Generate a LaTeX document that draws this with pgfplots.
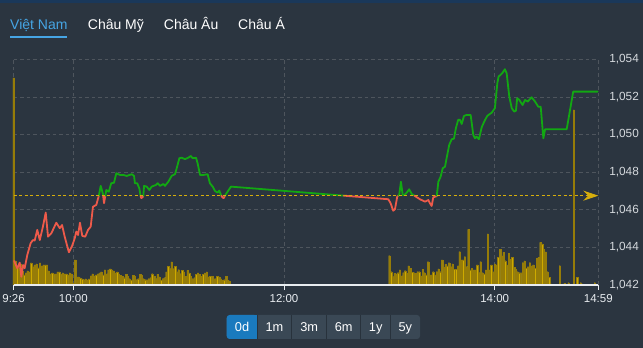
\documentclass[border=0pt]{standalone}
\usepackage{fontspec}
\setmainfont{Liberation Sans}
\usepackage{pgfplots}
\pgfplotsset{compat=1.18}
\usetikzlibrary{arrows.meta}
\definecolor{bg}{RGB}{43,53,64}
\definecolor{topstrip}{RGB}{26,56,90}
\definecolor{gridc}{RGB}{78,85,93}
\definecolor{tabblue}{RGB}{70,165,228}
\definecolor{lblc}{RGB}{214,218,222}
\definecolor{axisw}{RGB}{232,236,240}
\definecolor{redc}{RGB}{238,90,74}
\definecolor{greenc}{RGB}{18,168,18}
\definecolor{refc}{RGB}{214,174,12}
\definecolor{barfill}{RGB}{206,170,0}
\definecolor{baredge}{RGB}{150,124,8}
\definecolor{btn}{RGB}{58,72,85}
\definecolor{btnact}{RGB}{26,122,190}
\definecolor{btnsep}{RGB}{40,50,60}
\begin{document}
\begin{tikzpicture}[x=1pt,y=1pt]
\useasboundingbox (0,0) rectangle (643,348);
\fill[bg] (0,0) rectangle (643,348);
\fill[topstrip] (0,345) rectangle (643,348);
% tabs
\node[anchor=base west, inner sep=0pt, text=tabblue, font=\fontsize{14}{16}\selectfont] at (10,318.7) {Việt Nam};
\node[anchor=base west, inner sep=0pt, text=white, font=\fontsize{14}{16}\selectfont] at (87.7,318.7) {Châu Mỹ};
\node[anchor=base west, inner sep=0pt, text=white, font=\fontsize{14}{16}\selectfont] at (163.7,318.7) {Châu Âu};
\node[anchor=base west, inner sep=0pt, text=white, font=\fontsize{14}{16}\selectfont] at (238,318.7) {Châu Á};
\fill[tabblue] (10,309.5) rectangle (67,312.2);
% buttons
\fill[btn, rounded corners=3pt] (226.7,9) rectangle (420,33);
\fill[btnact, rounded corners=3pt] (226.7,9) rectangle (257.3,33);
\fill[btnact] (250,9) rectangle (257.3,33);
\foreach \sx in {257.3,291.7,326.7,360.7,390.7} {\draw[btnsep, line width=1pt] (\sx,9) -- (\sx,33);}
\foreach \bx/\bt in {242/0d,274.5/1m,309.2/3m,343.7/6m,375.7/1y,405.3/5y} {
  \node[anchor=base, inner sep=0pt, text=white, font=\fontsize{12.8}{14}\selectfont] at (\bx,16.3) {\bt};
}
% grid axis
\begin{axis}[
  at={(13.6pt,63pt)}, anchor=south west, scale only axis,
  width=584.7pt, height=225.7pt,
  xmin=26, xmax=359, ymin=1042, ymax=1054,
  axis line style={draw=none},
  xtick={26,60,180,300,359},
  ytick={1042,1044,1046,1048,1050,1052,1054},
  xticklabels={}, yticklabels={},
  tick style={draw=none},
  grid=major,
  major grid style={draw=gridc, dash pattern=on 3.5pt off 3pt, line width=0.6pt},
]
\addplot[draw=none] coordinates {(26,1042) (359,1054)};
\end{axis}
% volume axis
\begin{axis}[
  at={(13.6pt,63pt)}, anchor=south west, scale only axis,
  width=584.7pt, height=225.7pt,
  xmin=26, xmax=359, ymin=0, ymax=225.7,
  hide axis, clip=false,
]
\addplot[ybar, bar width=1.35pt, fill=barfill, draw=baredge, line width=0.3pt] coordinates {
(26,207) (27,24) (28,19) (29,17) (30,21) (31,14) (32,10) (33,12) (34,14) (35,13)
(36,22) (37,18) (38,20) (39,21) (40,17) (41,22) (42,19) (43,20) (44,20) (45,20)
(46,14) (47,11) (48,12) (49,11) (50,11) (51,13) (52,13) (53,11) (54,12) (55,11)
(56,11) (57,10) (58,12) (59,11) (60,1.5) (61,25)
(62,8) (63,8) (64,7) (65,6) (66,5) (67,6) (68,5) (69,6) (70,9) (71,11) (72,9) (73,10)
(74,11) (75,12) (76,13) (77,10) (78,15) (79,11) (80,15) (81,16) (82,15) (83,14) (84,12)
(85,13) (86,11)
(87,9.7) (88,8.7) (89,7.3) (90,10.7) (91,8.7) (92,6.3) (93,4.7) (94,9.7) (95,8.7) (96,5.3)
(97,6.3) (98,10.7) (99,9.7) (100,6.3) (101,5.3) (102,5.3) (103,6.3) (104,7.3) (105,11.3) (106,8.7)
(107,6.3) (108,10.7) (109,8) (110,4.7) (111,6.3) (112,7.3) (113,13) (114,18.7) (115,16.3) (116,23)
(117,16.3) (118,18.7) (119,13) (120,15.3) (121,11.3) (122,14.7) (123,13) (124,8.7) (125,14.7) (126,12)
(127,8.7) (128,6.3) (129,7.3) (130,10.7) (131,12) (132,10.7) (133,8.7) (134,10.7) (135,12) (136,13)
(137,8) (138,8.7) (139,8.7) (140,6.3) (141,6.3) (142,8.7) (143,8) (144,6.3) (145,4.7) (146,5.3)
(147,8.7) (148,4.7) (149,4)
(240,29.3) (241,13.3) (242,8.3) (243,11.7) (244,11) (245,12.3) (246,15) (247,9) (248,12.3) (249,14.3)
(250,11.7) (251,19) (252,16.7) (253,12.7) (254,12.3) (255,11.7) (256,13.3) (257,13.3) (258,9) (259,15.7)
(260,12.3) (261,10) (262,23.3) (263,10) (264,10) (265,13.3) (266,10) (267,13.3) (268,16) (269,13.3)
(270,25) (271,17.7) (272,20.7) (273,19) (274,22.3) (275,18.3) (276,21) (277,15.7) (278,15.7) (279,19)
(280,33.3) (281,25) (282,25) (283,28.3) (284,18.3) (285,55.7) (286,15) (287,16.7) (288,15) (289,15)
(290,20) (291,12.3) (292,23.3) (293,12.3) (294,11) (295,15) (296,51) (297,15) (298,20) (299,13.3)
(300,21) (301,20) (302,27.7) (303,35.7) (304,29) (305,32.7) (306,24.3) (307,20) (308,31.7) (309,25.7)
(310,27.7) (311,17.7) (312,15.7) (313,13.3) (314,12.3) (315,12.3) (316,22.3) (317,24) (318,16.7) (319,18.3)
(320,22.3) (321,19) (322,20) (323,16.7) (324,26.7) (325,27.7) (326,42.7) (327,41) (328,35.7) (329,33)
(330,13.3) (331,7.7) (332,1) (337,19.3) (339,1) (340,1.7) (342,2.3) (345,175) (347,7.7) (349,2.3)
(350,1) (353,0.7) (357,2.3)
};
\end{axis}
% price axis with ticks and labels on top
\begin{axis}[
  at={(13.6pt,63pt)}, anchor=south west, scale only axis,
  width=584.7pt, height=225.7pt,
  xmin=26, xmax=359, ymin=1042, ymax=1054,
  clip=false,
  axis x line*=bottom, axis y line*=right,
  x axis line style={draw=axisw, line width=1.2pt, -},
  y axis line style={draw=none},
  xtick={26,60,180,300,359},
  xticklabels={9:26,10:00,12:00,14:00,14:59},
  ytick={1042,1044,1046,1048,1050,1052,1054},
  yticklabels={{1,042},{1,044},{1,046},{1,048},{1,050},{1,052},{1,054}},
  tick align=outside, major tick length=5pt,
  xtick style={draw=axisw, line width=0.9pt},
  ytick style={draw=none},
  xticklabel style={font=\fontsize{11.5}{12}\selectfont, text=axisw, anchor=base, inner sep=0pt, yshift=-13pt},
  yticklabel style={font=\fontsize{11.8}{12}\selectfont, text=lblc, anchor=west, inner sep=0pt, xshift=5.8pt},
  every axis plot/.append style={line width=1.8pt, line join=round, line cap=round, no marks},
]
\addplot[redc] coordinates {
(26.3,1043.28) (28.1,1042.89) (29.5,1043.19) (30.4,1042.44) (31.4,1043.06) (32.3,1042.89)
(33.8,1043.60) (35.7,1044.22) (37.0,1044.39) (38.0,1044.36) (39.5,1044.93) (40.9,1044.39)
(42.7,1045.10) (44.3,1045.85) (45.6,1044.57) (47.5,1044.75) (50.3,1045.31) (52.3,1045.02)
(53.6,1045.19) (55.1,1044.57) (57.5,1043.74) (59.3,1044.07) (60.8,1044.48) (61.7,1044.84)
(62.7,1044.66) (63.8,1045.31) (65.1,1044.61) (66.8,1044.57) (68.4,1044.93) (69.9,1045.10)
(71.2,1046.16) (73.1,1046.26) (74.5,1046.73) (74.55,1046.75)};
\addplot[greenc] coordinates {(74.55,1046.75) (75.6,1047.27) (76.9,1046.84) (77.0,1046.75)};
\addplot[redc] coordinates {(77.0,1046.75) (77.5,1046.35) (78.24,1046.75)};
\addplot[greenc] coordinates {
(78.24,1046.75) (78.8,1047.05) (80.2,1046.96) (81.6,1047.41) (83.2,1047.44) (84.5,1047.94)
(86.6,1047.85) (88.5,1047.85) (90.4,1047.80) (93.3,1047.89) (94.6,1047.80) (95.1,1047.41)
(96.4,1047.41) (97.6,1047.14) (98.3,1046.75)};
\addplot[redc] coordinates {(98.3,1046.75) (98.7,1046.62) (99.4,1046.66) (99.9,1046.75)};
\addplot[greenc] coordinates {
(99.9,1046.75) (100.3,1047.27) (101.8,1047.23) (103.3,1047.05) (104.6,1047.23) (107.1,1047.32)
(108.1,1047.41) (109.4,1047.27) (111.3,1047.37) (112.2,1047.27) (114.1,1047.49) (116.0,1047.80)
(117.9,1047.89) (118.9,1048.21) (120.4,1048.74) (121.7,1048.77) (123.6,1048.69) (125.5,1048.77)
(126.9,1048.86) (128.0,1048.74) (129.9,1048.77) (130.8,1048.47) (132.2,1047.85) (134.0,1047.85)
(136.5,1047.89) (137.8,1047.41) (139.4,1047.23) (140.7,1047.00) (142.2,1046.91) (143.1,1047.02)
(144.3,1046.75)};
\addplot[redc] coordinates {(144.3,1046.75) (145.0,1046.65) (145.7,1046.62) (146.4,1046.75)};
\addplot[greenc] coordinates {(146.4,1046.75) (147.0,1046.84) (148.3,1047.02) (149.8,1047.23) (214.0,1046.75)};
\addplot[redc] coordinates {
(214.0,1046.75) (239.4,1046.56) (240.7,1046.35) (242.2,1045.95) (243.2,1046.03) (244.5,1046.70)
(245.1,1046.75)};
\addplot[greenc] coordinates {
(245.1,1046.75) (245.6,1046.79) (246.6,1047.49) (247.6,1046.79) (248.5,1046.78) (249.9,1046.91)
(251.3,1047.09) (252.7,1046.84) (254.25,1046.75)};
\addplot[redc] coordinates {
(254.25,1046.75) (254.6,1046.73) (257.4,1046.56) (260.3,1046.43) (262.2,1046.52) (263.1,1046.35)
(264.1,1046.20) (265.0,1046.66) (267.0,1046.73) (267.02,1046.75)};
\addplot[greenc] coordinates {
(267.02,1046.75) (267.9,1047.49) (269.2,1047.76) (270.4,1048.21) (271.7,1048.29) (272.6,1048.74)
(274.1,1049.45) (275.5,1049.75) (276.8,1049.78) (277.9,1050.34) (279.2,1050.78) (280.2,1050.78)
(281.2,1050.56) (282.5,1050.99) (284.0,1051.04) (286.3,1051.04) (287.8,1049.98) (288.8,1049.80)
(289.7,1049.89) (291.0,1049.75) (292.6,1050.39) (294.5,1050.78) (295.8,1050.99) (297.3,1051.10)
(298.3,1051.16) (300.1,1051.40) (301.5,1052.73) (302.2,1053.08) (304.3,1053.26) (305.8,1053.47)
(306.8,1053.26) (308.3,1052.02) (309.7,1051.40) (311.1,1051.22) (312.1,1051.27) (312.8,1051.93)
(314.0,1051.84) (315.9,1051.57) (317.3,1051.84) (318.8,1051.75) (321.0,1051.98) (323.0,1051.75)
(324.8,1051.48) (326.2,1051.48) (327.7,1049.80) (328.7,1050.28) (341.0,1050.28) (344.7,1052.28)
(358.6,1052.28)};
% reference price
\addplot[refc, line width=1pt, line cap=butt, dash pattern=on 3pt off 2.5pt,
  -{Stealth[length=15pt,width=10pt,inset=5pt]},
  mark=*, mark indices={1}, mark size=4.2pt, mark options={solid, fill=refc, draw=refc}]
  coordinates {(26,1046.75) (359,1046.75)};
\end{axis}
\end{tikzpicture}
\end{document}
